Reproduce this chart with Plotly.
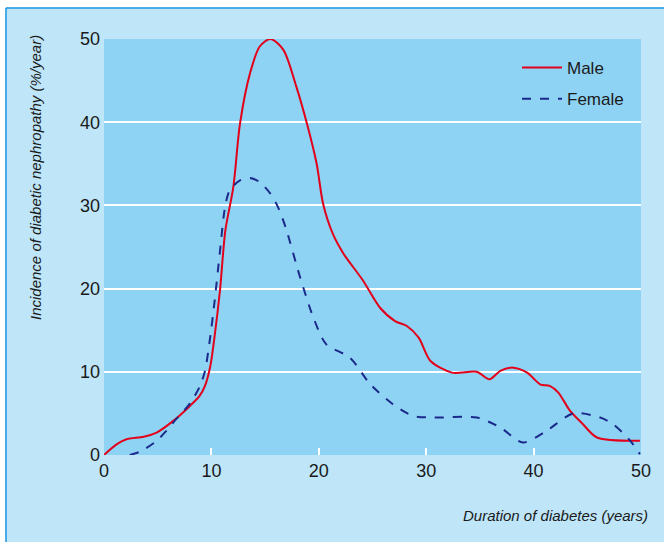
import plotly.graph_objects as go

# Male incidence curve (duration in years, incidence %/year)
male_x = [0, 1.2, 2.1, 3.7, 4.9, 6.45, 8.0, 8.9, 9.4, 9.9, 10.3, 10.8, 11.3, 12.04, 12.66, 13.6, 14.5,
          15.5, 16.7, 17.9, 18.9, 19.8, 20.4, 21.3, 22.3, 24.1, 25.7, 27.1, 28.2, 29.3, 30.4, 32.4,
          34.7, 35.9, 36.9, 38.1, 39.4, 40.6, 41.5, 42.3, 43.4, 44.6, 45.9, 49.9]
male_y = [0, 1.3, 1.9, 2.2, 2.7, 4.1, 5.9, 7.1, 8.3, 10.7, 14.3, 19.8, 27.0, 32.2, 39.8, 45.9, 49.1,
          50.0, 48.7, 44.3, 39.8, 35.0, 30.2, 26.6, 24.2, 21.0, 17.7, 16.1, 15.5, 14.1, 11.3, 9.9,
          10.0, 9.1, 10.1, 10.5, 9.9, 8.5, 8.3, 7.5, 5.3, 3.7, 2.1, 1.7]

# Female incidence curve
female_x = [2.4, 3.35, 4.9, 5.8, 6.45, 8.0, 8.9, 9.4, 9.9, 10.3, 10.8, 11.27, 11.7, 12.66, 13.6, 14.5,
            15.5, 16.2, 16.9, 18.25, 19.5, 20.7, 22.9, 24.8, 26.9, 28.8, 30.7, 34.7, 36.9, 39.0,
            41.2, 43.7, 46.2, 47.4, 49.0, 49.9]
female_y = [0, 0.4, 1.7, 2.9, 3.9, 6.2, 8.2, 10.1, 14.3, 18.5, 24.5, 29.8, 31.8, 33.0, 33.3, 32.8,
            31.4, 29.8, 27.4, 21.4, 16.5, 13.3, 11.7, 8.5, 6.1, 4.7, 4.5, 4.5, 3.3, 1.5,
            2.9, 5.0, 4.5, 3.7, 1.7, 0.1]

x_ticks = [0, 10, 20, 30, 40, 50]
y_ticks = [0, 10, 20, 30, 40, 50]

FONT = "Liberation Sans, Arial, Helvetica, sans-serif"
OUTER = "#bee5f8"
INNER = "#8fd3f4"

fig = go.Figure()
fig.add_trace(go.Scatter(x=male_x, y=male_y, mode="lines", name="Male", legendgroup="m",
                         line=dict(color="#e2001a", width=2, shape="spline", smoothing=0.8)))
fig.add_trace(go.Scatter(x=female_x, y=female_y, mode="lines", name="Female", legendgroup="f",
                         line=dict(color="#1b2a8a", width=2, dash="dash", shape="spline", smoothing=0.8)))

W, H = 664, 542
L, R, T, B = 104, 23, 39, 87
pw, ph = W - L - R, H - T - B

def px(x):
    return (x - L) / pw

def py(y):
    return (H - B - y) / ph

fig.update_layout(
    width=W, height=H,
    margin=dict(l=L, r=R, t=T, b=B),
    paper_bgcolor=OUTER, plot_bgcolor=INNER,
    font=dict(family=FONT, size=17, color="#1a1a1a"),
    showlegend=True,
    legend=dict(x=px(517), y=py(50), xanchor="left", yanchor="top",
                bgcolor="rgba(0,0,0,0)", font=dict(size=17), tracegroupgap=6,
                itemwidth=40),
    xaxis=dict(range=[0, 50], tickvals=x_ticks, ticks="inside", tickcolor="white",
               ticklen=7, tickwidth=2, showgrid=False, zeroline=False, showline=False,
               tickfont=dict(size=18), ticklabelstandoff=3),
    yaxis=dict(range=[0, 50], tickvals=y_ticks, ticks="", showgrid=True, gridcolor="white",
               gridwidth=2, zeroline=False, showline=False, tickfont=dict(size=18),
               ticklabelstandoff=3),
    annotations=[
        dict(text="<i>Incidence of diabetic nephropathy (%/year)</i>", textangle=-90,
             xref="paper", yref="paper", x=px(35), y=py(178), xanchor="center", yanchor="middle",
             showarrow=False, font=dict(size=15)),
        dict(text="<i>Duration of diabetes (years)</i>",
             xref="paper", yref="paper", x=px(650), y=py(515), xanchor="right", yanchor="middle",
             showarrow=False, font=dict(size=15)),
    ],
    shapes=[
        dict(type="rect", xref="paper", yref="paper", x0=px(-5), x1=px(W + 5), y0=py(-5), y1=py(7.5),
             fillcolor="white", line=dict(width=0), layer="above"),
        dict(type="rect", xref="paper", yref="paper", x0=px(-5), x1=px(5.5), y0=py(-5), y1=py(H + 5),
             fillcolor="white", line=dict(width=0), layer="above"),
        dict(type="line", xref="paper", yref="paper", x0=px(6), x1=px(W + 5), y0=py(8), y1=py(8),
             line=dict(color="#1e96e0", width=1.5), layer="above"),
        dict(type="line", xref="paper", yref="paper", x0=px(6), x1=px(6), y0=py(8), y1=py(H + 5),
             line=dict(color="#1e96e0", width=1.5), layer="above"),
    ],
)

fig.write_html("out.html", config={"displayModeBar": False},
               post_script="document.body.style.margin='0';document.body.style.overflow='hidden';")
